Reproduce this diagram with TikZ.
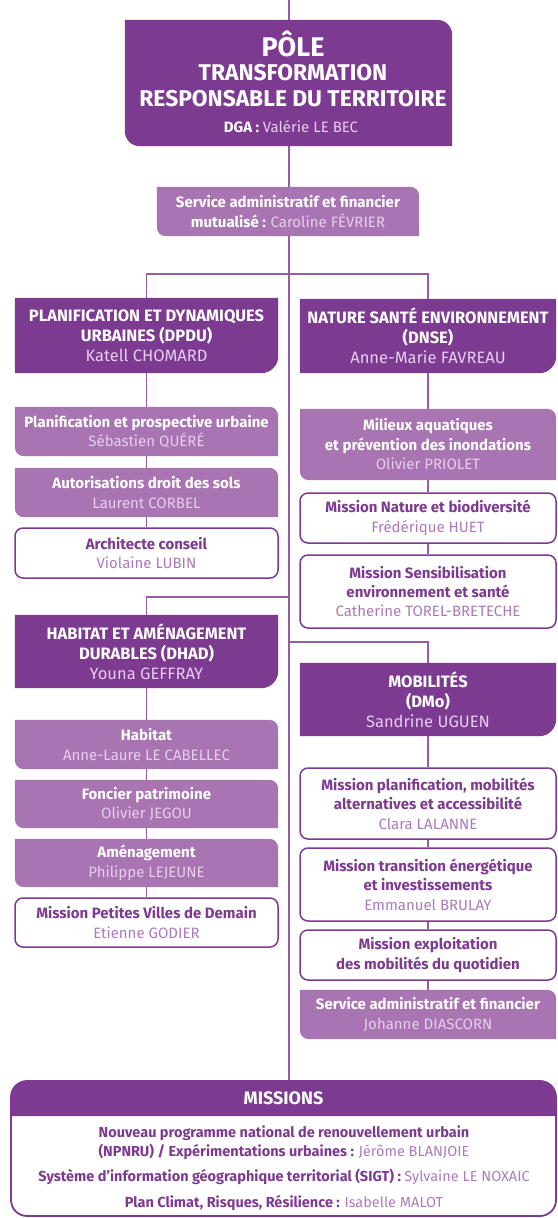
\documentclass[tikz,border=0pt]{standalone}
\usepackage{fontspec}
\setmainfont{Fira Sans}
\usepackage{xcolor}
\usetikzlibrary{backgrounds,positioning}
\definecolor{violetfonce}{RGB}{125,58,145}
\definecolor{violetclair}{RGB}{168,117,178}
\definecolor{rosenom}{RGB}{232,206,238}
\definecolor{violetnom}{RGB}{172,122,188}
\definecolor{violetlien}{RGB}{150,92,165}
\newcommand{\nomrose}[1]{{\mdseries\color{rosenom}#1}}
\newcommand{\nomviolet}[1]{{\mdseries\color{violetnom}#1}}
% fond : coins haut-droit et bas-gauche arrondis
\newcommand{\fondonglet}[3]{\fill[#2] (#1.north west) -- ([xshift=-#3]#1.north east) arc[start angle=90,end angle=0,radius=#3] -- (#1.south east) -- ([xshift=#3]#1.south west) arc[start angle=270,end angle=180,radius=#3] -- cycle;}
% fond : coin bas-droit arrondi
\newcommand{\fondtete}[3]{\fill[#2] (#1.north west) -- (#1.north east) -- ([yshift=#3]#1.south east) arc[start angle=0,end angle=-90,radius=#3] -- (#1.south west) -- cycle;}
\tikzset{
  colg/.style={minimum width=263pt},
  cold/.style={minimum width=256pt},
  tete/.style={text=white,font=\fontsize{16.5}{20}\selectfont\bfseries,align=center,inner sep=0pt},
  clair/.style={text=white,font=\fontsize{15}{19.5}\selectfont\bfseries,align=center,inner sep=0pt},
  blanc/.style={draw=violetfonce,line width=1.5pt,rounded corners=8pt,fill=white,text=violetfonce,font=\fontsize{15}{19.5}\selectfont\bfseries,align=center,inner sep=0pt},
  mission/.style={text=violetfonce,font=\fontsize{14.5}{19}\selectfont\bfseries,align=center,inner sep=0pt},
  liaison/.style={draw=violetlien,line width=1.4pt}
}
\begin{document}
\begin{tikzpicture}[x=1pt,y=1pt]
\useasboundingbox (0,0) rectangle (557,-1218);
% pôle
\node[minimum width=327pt,minimum height=126pt,inner sep=0pt] (pole) at (288.5,-83) {};
\node[text=white,font=\fontsize{27}{30}\selectfont\bfseries] (polenom) at (293,-44) {PÔLE};
\node[text=white,font=\fontsize{22.8}{26}\selectfont\bfseries,align=center] (poletitre) at (293,-86) {TRANSFORMATION\\RESPONSABLE DU TERRITOIRE};
\node[text=white,font=\fontsize{15}{18}\selectfont\bfseries] (dga) at (291,-127) {DGA : \nomrose{Valérie LE BEC}};
\node[clair,minimum width=262pt,minimum height=49pt] (saf) at (288,-211.5) {Service administratif et financier\\mutualisé : \nomrose{Caroline FÉVRIER}};
\coordinate (haut) at (289,0);
\coordinate (branche) at (289,-274);
\coordinate (brancheg) at (289,-597);
\coordinate (brancheh) at (289,-642);
% colonne gauche
\node[tete,colg,minimum height=75pt] (dpdu) at (146.5,-335.5) {PLANIFICATION ET DYNAMIQUES\\URBAINES (DPDU)\\\nomrose{Katell CHOMARD}};
\node[clair,colg,minimum height=49pt] (planif) at (146.5,-431.5) {Planification et prospective urbaine\\\nomrose{Sébastien QUÉRÉ}};
\node[clair,colg,minimum height=49pt] (autor) at (146.5,-492.5) {Autorisations droit des sols\\\nomrose{Laurent CORBEL}};
\node[blanc,colg,minimum height=50pt] (archi) at (146.5,-553) {Architecte conseil\\\nomviolet{Violaine LUBIN}};
\node[tete,colg,minimum height=73pt] (dhad) at (146.5,-651.5) {HABITAT ET AMÉNAGEMENT\\DURABLES (DHAD)\\\nomrose{Youna GEFFRAY}};
\node[clair,colg,minimum height=49pt] (habitat) at (146.5,-744.5) {Habitat\\\nomrose{Anne-Laure LE CABELLEC}};
\node[clair,colg,minimum height=48pt] (foncier) at (146.5,-804) {Foncier patrimoine\\\nomrose{Olivier JEGOU}};
\node[clair,colg,minimum height=48pt] (amenag) at (146.5,-863) {Aménagement\\\nomrose{Philippe LEJEUNE}};
\node[blanc,colg,minimum height=49pt] (pvd) at (146.5,-922.5) {Mission Petites Villes de Demain\\\nomviolet{Etienne GODIER}};
% colonne droite
\node[tete,cold,minimum height=74pt] (dnse) at (428,-336) {NATURE SANTÉ ENVIRONNEMENT\\(DNSE)\\\nomrose{Anne-Marie FAVREAU}};
\node[clair,cold,minimum height=71pt] (milieux) at (428,-444.5) {Milieux aquatiques\\et prévention des inondations\\\nomrose{Olivier PRIOLET}};
\node[blanc,cold,minimum height=50pt] (nature) at (428,-518) {Mission Nature et biodiversité\\\nomviolet{Frédérique HUET}};
\node[blanc,cold,minimum height=73pt] (sensib) at (428,-591.5) {Mission Sensibilisation\\environnement et santé\\\nomviolet{Catherine TOREL-BRETECHE}};
\node[tete,cold,minimum height=73pt] (dmo) at (428,-699.5) {MOBILITÉS\\(DMo)\\\nomrose{Sandrine UGUEN}};
\node[blanc,cold,minimum height=71pt] (planmob) at (428,-803.5) {Mission planification, mobilités\\alternatives et accessibilité\\\nomviolet{Clara LALANNE}};
\node[blanc,cold,minimum height=73pt] (transit) at (428,-884.5) {Mission transition énergétique\\et investissements\\\nomviolet{Emmanuel BRULAY}};
\node[blanc,cold,minimum height=50pt] (exploit) at (428,-955) {Mission exploitation\\des mobilités du quotidien};
\node[clair,cold,minimum height=49pt] (safd) at (428,-1014.5) {Service administratif et financier\\\nomrose{Johanne DIASCORN}};
% missions
\node[draw=violetfonce,line width=1.8pt,rounded corners=16pt,minimum width=545pt,minimum height=135pt,inner sep=0pt] (missions) at (283.5,-1148.5) {};
\node[minimum width=545pt,minimum height=35pt,inner sep=0pt,text=white,font=\fontsize{18}{20}\selectfont\bfseries] (misstete) at (283.5,-1098.5) {MISSIONS};
\node[mission] (npnru) at (284,-1142.5) {Nouveau programme national de renouvellement urbain\\(NPNRU) / Expérimentations urbaines : \nomviolet{Jérôme BLANJOIE}};
\node[mission] (sigt) at (284,-1177) {Système d’information géographique territorial (SIGT) : \nomviolet{Sylvaine LE NOXAIC}};
\node[mission] (climat) at (284,-1203) {Plan Climat, Risques, Résilience : \nomviolet{Isabelle MALOT}};
\begin{scope}[on background layer]
\draw[liaison] (haut) -- (missions.north -| haut);
\draw[liaison] (dpdu.north) |- (branche) -| (dnse.north);
\draw[liaison] (dpdu) -- (planif) -- (autor) -- (archi);
\draw[liaison] (brancheg) -| (dhad.north);
\draw[liaison] (dhad) -- (habitat) -- (foncier) -- (amenag) -- (pvd);
\draw[liaison] (dnse) -- (milieux) -- (nature) -- (sensib);
\draw[liaison] (brancheh) -| (dmo.north);
\draw[liaison] (dmo) -- (planmob) -- (transit) -- (exploit) -- (safd);
\fondonglet{pole}{violetfonce}{15pt}
\fondonglet{saf}{violetclair}{9pt}
\fondtete{dpdu}{violetfonce}{17pt}
\fondtete{dhad}{violetfonce}{17pt}
\fondtete{dnse}{violetfonce}{17pt}
\fondtete{dmo}{violetfonce}{17pt}
\foreach \n in {planif,autor,habitat,foncier,amenag,milieux,safd}
  \fondonglet{\n}{violetclair}{9pt};
\fill[violetfonce] (misstete.south west) -- ([yshift=-16pt]misstete.north west) arc[start angle=180,end angle=90,radius=16pt] -- ([xshift=-16pt]misstete.north east) arc[start angle=90,end angle=0,radius=16pt] -- (misstete.south east) -- cycle;
\end{scope}
\end{tikzpicture}
\end{document}
